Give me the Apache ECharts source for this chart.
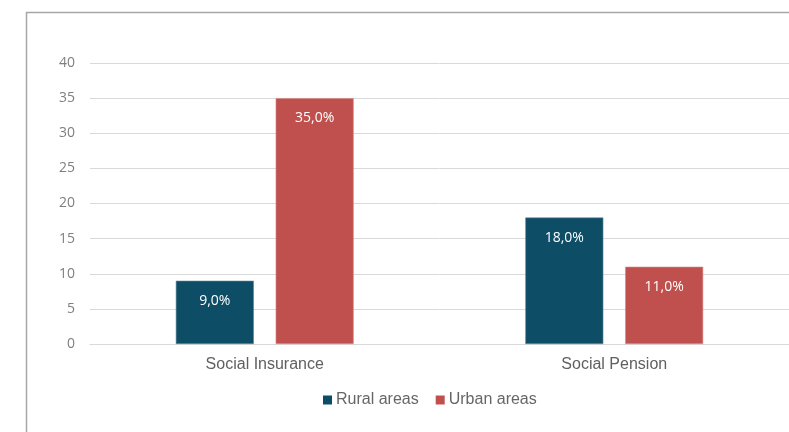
<!DOCTYPE html>
<html>
<head>
<meta charset="utf-8">
<script src="https://cdn.jsdelivr.net/npm/echarts@6/dist/echarts.min.js"></script>
<style>
  html, body { margin: 0; padding: 0; background: #fff; }
  #chart { width: 789px; height: 432px; }
</style>
</head>
<body>
<div id="chart"></div>
<script>
// Coverage shares by programme type (%)
const categories = ['Social Insurance', 'Social Pension'];
const ruralAreas = [9.0, 18.0];
const urbanAreas = [35.0, 11.0];
const yTicks = { min: 0, max: 40, interval: 5 };

const chart = echarts.init(document.getElementById('chart'), null, { renderer: 'canvas' });

const valueLabel = {
  show: true,
  position: 'insideTop',
  distance: 13,
  color: '#ffffff',
  fontFamily: 'Open Sans',
  fontSize: 14,
  formatter: p => p.value.toFixed(1).replace('.', ',') + '%'
};

chart.setOption({
  animation: false,
  backgroundColor: '#ffffff',
  graphic: [{
    type: 'rect',
    shape: { x: 26.5, y: 12.5, width: 800, height: 500 },
    style: { fill: 'none', stroke: '#a6a6a6', lineWidth: 1.5 },
    silent: true
  }],
  grid: { left: 90, top: 63, width: 700, height: 281, containLabel: false },
  legend: {
    left: 318,
    top: 387,
    itemWidth: 9,
    itemHeight: 9,
    itemGap: 17,
    icon: 'rect',
    itemStyle: { borderWidth: 0 },
    textStyle: { color: '#666666', fontFamily: 'Liberation Sans', fontSize: 16, padding: [0, 0, 0, -1] },
    data: ['Rural areas', 'Urban areas']
  },
  xAxis: {
    type: 'category',
    data: categories,
    axisLine: { lineStyle: { color: '#d9d9d9', width: 1 } },
    axisTick: { show: false },
    axisLabel: { color: '#606060', fontFamily: 'Liberation Sans', fontSize: 16, margin: 13 }
  },
  yAxis: {
    type: 'value',
    min: yTicks.min,
    max: yTicks.max,
    interval: yTicks.interval,
    axisLine: { show: false },
    axisTick: { show: false },
    splitLine: { lineStyle: { color: '#d9d9d9', width: 1 } },
    axisLabel: { color: '#7f7f7f', fontFamily: 'Open Sans', fontSize: 14, margin: 15 }
  },
  series: [
    {
      name: 'Rural areas',
      type: 'bar',
      data: ruralAreas,
      barWidth: 78,
      barGap: '28%',
      itemStyle: { color: '#0e4d66', borderColor: '#5a8598', borderWidth: 0.6 },
      label: valueLabel
    },
    {
      name: 'Urban areas',
      type: 'bar',
      data: urbanAreas,
      barWidth: 78,
      barGap: '28%',
      itemStyle: { color: '#c0504d', borderColor: '#d88a88', borderWidth: 0.6 },
      label: valueLabel
    }
  ]
});
</script>
</body>
</html>
